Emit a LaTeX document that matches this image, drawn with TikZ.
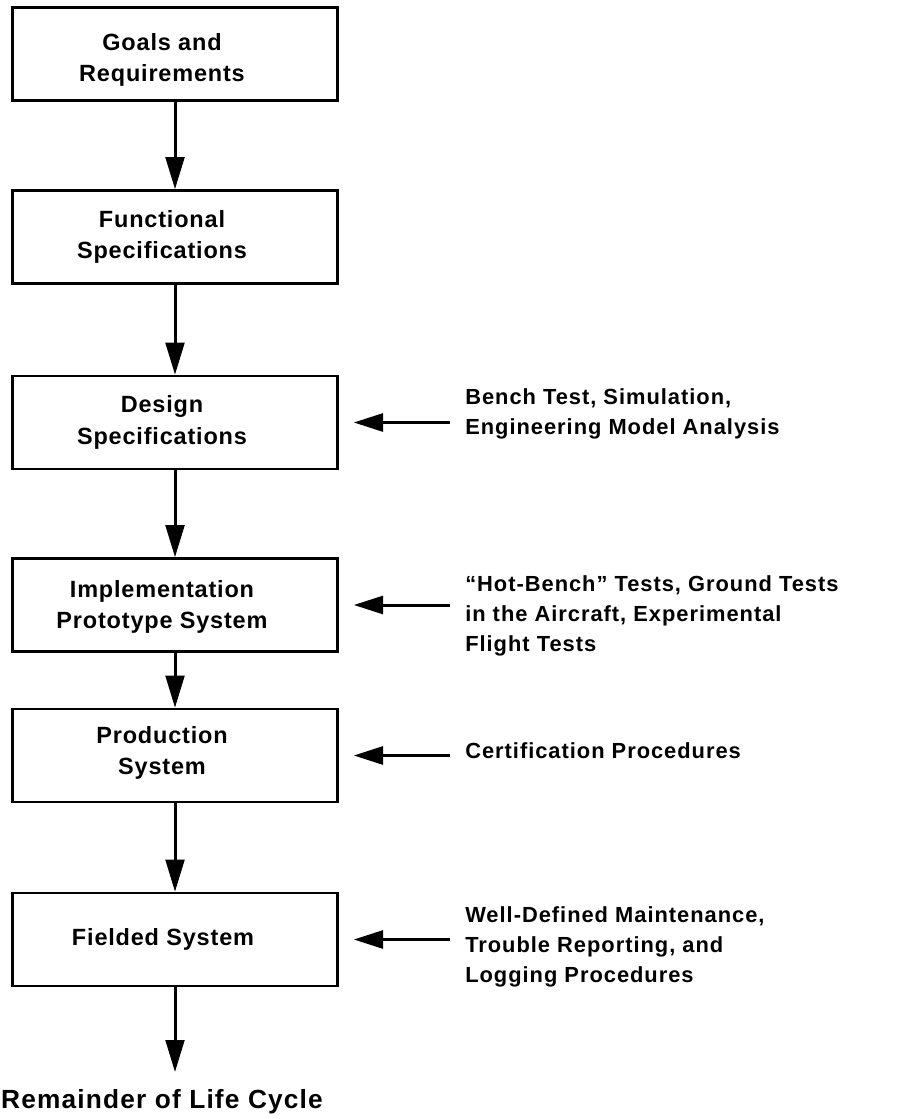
\documentclass[tikz,border=0pt]{standalone}
\usepackage{fontspec}
\setmainfont{Liberation Sans}[LetterSpace=4.5]
\newfontfamily\stagefont{Liberation Sans}[LetterSpace=3.5]
\usetikzlibrary{arrows.meta}
\newlength{\pxu}
\setlength{\pxu}{0.75pt}
\tikzset{
  stagebox/.style={draw, line width=2.6\pxu, minimum width=325\pxu, minimum height=93\pxu, inner sep=0pt},
  stagetext/.style={align=center, inner sep=0pt, font=\stagefont\bfseries\fontsize{17.6pt}{23.5pt}\selectfont},
  endtext/.style={inner sep=0pt, font=\bfseries\fontsize{19.7pt}{24pt}\selectfont},
  notetext/.style={align=left, anchor=west, inner sep=0pt, font=\bfseries\fontsize{16.4pt}{22.5pt}\selectfont},
  flow/.style={line width=3\pxu, -{Triangle[length=24pt, width=14pt]}},
  feed/.style={line width=3\pxu, -{Triangle[length=22pt, width=13.5pt]}, shorten >=15\pxu, shorten <=15\pxu}
}
\begin{document}
\begin{tikzpicture}[x=\pxu, y=-\pxu]
\useasboundingbox (0,0) rectangle (910,1119);

% life-cycle stages
\node[stagebox] (goals) at (175,54) {};
\node[stagebox] (func)  at (175,237) {};
\node[stagebox] (design) at (175,422.5) {};
\node[stagebox] (impl)  at (175,605) {};
\node[stagebox] (prod)  at (175,755.5) {};
\node[stagebox] (field) at (175,939.5) {};

\node[stagetext] (goalsT)  at (162,60)  {Goals and\\Requirements};
\node[stagetext] (funcT)   at (162,237) {Functional\\Specifications};
\node[stagetext] (designT) at (162,422.5) {Design\\Specifications};
\node[stagetext] (implT)   at (162,607) {Implementation\\Prototype System};
\node[stagetext] (prodT)   at (162,753) {Production\\System};
\node[stagetext] (fieldT)  at (163,939.5) {Fielded System};

\coordinate (endpt) at (175,1072);
\node[endtext] (rest) at (162,1102) {Remainder of Life Cycle};

% downward flow
\draw[flow] (goals.south) -- (func.north);
\draw[flow] (func.south) -- (design.north);
\draw[flow] (design.south) -- (impl.north);
\draw[flow] (impl.south) -- (prod.north);
\draw[flow] (prod.south) -- (field.north);
\draw[flow] (field.south) -- (endpt);

% verification activities feeding each stage
\node[notetext] (n3) at (465,414) {Bench Test, Simulation,\\Engineering Model Analysis};
\node[notetext] (n4) at (465,616) {“Hot-Bench” Tests, Ground Tests\\in the Aircraft, Experimental\\Flight Tests};
\node[notetext] (n5) at (465,751) {Certification Procedures};
\node[notetext] (n6) at (465,947) {Well-Defined Maintenance,\\Trouble Reporting, and\\Logging Procedures};

\draw[feed] (design.east -| n3.west) -- (design.east);
\draw[feed] (impl.east -| n4.west) -- (impl.east);
\draw[feed] (prod.east -| n5.west) -- (prod.east);
\draw[feed] (field.east -| n6.west) -- (field.east);
\end{tikzpicture}
\end{document}
